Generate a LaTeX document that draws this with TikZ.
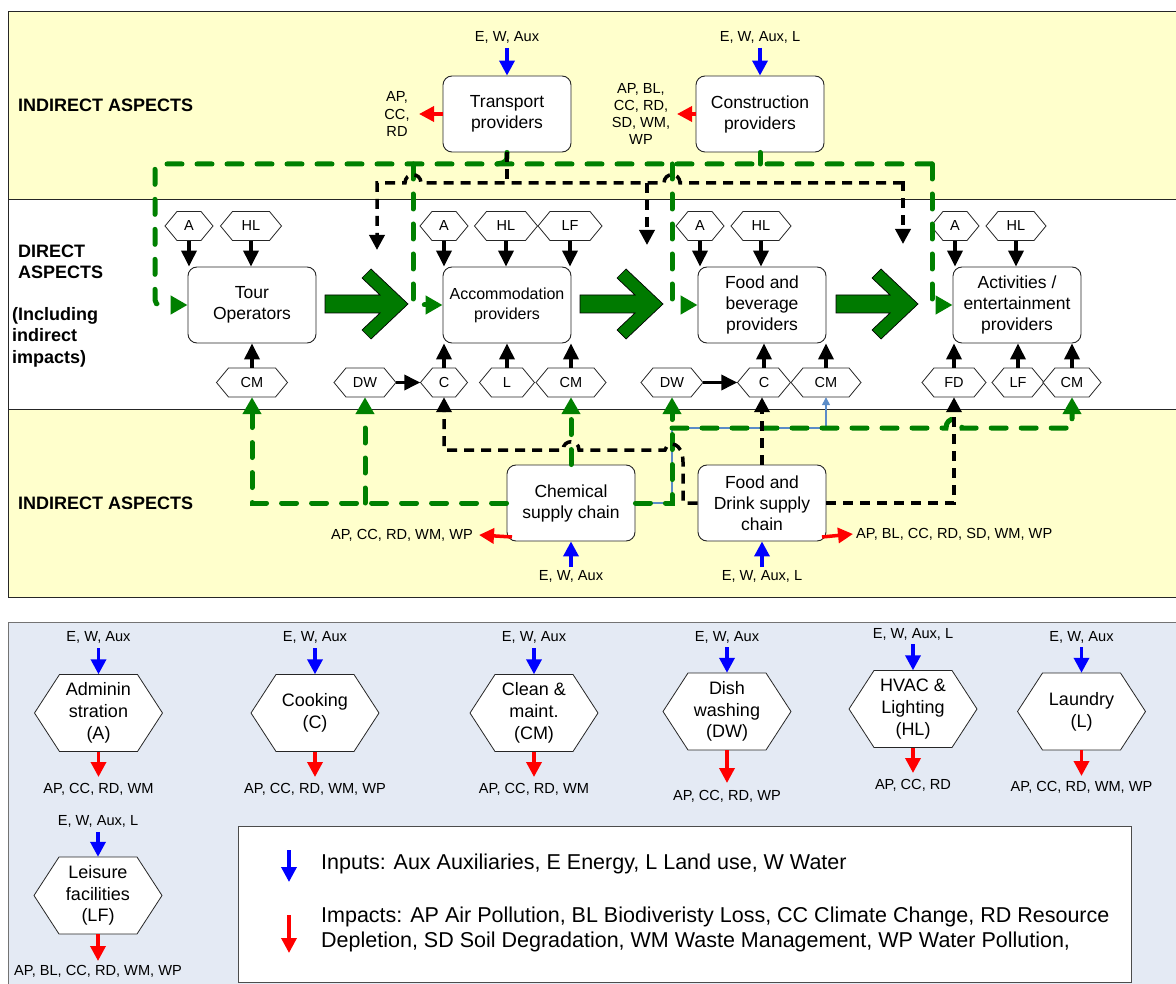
\documentclass[tikz,border=0pt]{standalone}
\usepackage{fontspec}
\setmainfont{Liberation Sans}
\usetikzlibrary{arrows.meta}

\definecolor{paleyellow}{HTML}{FFFFCC}
\definecolor{legendbg}{HTML}{E4EAF4}
\definecolor{flowgreen}{HTML}{008000}
\definecolor{arrowgreen}{HTML}{007A00}
\definecolor{inblue}{HTML}{0000FF}
\definecolor{outred}{HTML}{FF0000}
\definecolor{thinblue}{HTML}{5B8CC8}

\tikzset{
  procbox/.style={draw=black!85, line width=0.9pt, fill=white, rounded corners=9pt,
    minimum width=128pt, minimum height=76pt, align=center, inner sep=1pt,
    font=\fontsize{17.5}{21}\selectfont},
  hexframe/.style={draw=black!85, line width=0.8pt, fill=white},
  hexinner/.style={inner sep=0pt, align=center},
  smallhexfont/.style={font=\fontsize{14.5}{16}\selectfont},
  bighexfont/.style={font=\fontsize{18}{21.7}\selectfont},
  note/.style={inner sep=0pt, align=center, font=\fontsize{14.6}{17.3}\selectfont},
  sect/.style={inner sep=0pt, align=left, anchor=west, font=\fontsize{18}{21.5}\selectfont\bfseries},
  feed/.style={draw=black, line width=3.5pt, -{Triangle[length=16pt,width=15pt]}},
  kdash/.style={draw=black, line width=3.5pt, dash pattern=on 10pt off 7pt},
  ktip/.style={-{Triangle[length=15pt,width=15pt]}},
  gdash/.style={draw=flowgreen, line width=5pt, line cap=round, dash pattern=on 15pt off 15pt},
  gtip/.style={-{Triangle[length=17pt,width=18pt]}},
  inflow/.style={draw=inblue, line width=3.5pt, -{Triangle[length=15pt,width=15pt]}},
  outflow/.style={draw=outred, line width=3.5pt, -{Triangle[length=15pt,width=15pt]}},
  bigarrow/.style={fill=arrowgreen, draw=black, line width=0.7pt},
  thinlink/.style={draw=thinblue, line width=1.3pt, -{Triangle[length=8pt,width=8pt]}},
  legendtext/.style={inner sep=0pt, anchor=west, align=left, font=\fontsize{21.5}{25}\selectfont},
}

% hexagon: name, centre x, centre y, width, height, slant, text style, text
\newcommand{\hexcell}[8]{%
  \filldraw[hexframe] ({#2-(#4)/2},{#3}) -- ({#2-(#4)/2+(#6)},{#3-(#5)/2})
    -- ({#2+(#4)/2-(#6)},{#3-(#5)/2}) -- ({#2+(#4)/2},{#3})
    -- ({#2+(#4)/2-(#6)},{#3+(#5)/2}) -- ({#2-(#4)/2+(#6)},{#3+(#5)/2}) -- cycle;
  \node[hexinner, #7, minimum width=#4pt, minimum height=#5pt] (#1) at (#2,#3) {#8};
}
\newcommand{\smallhex}[5]{\hexcell{#1}{#2}{#3}{#4}{29}{12}{smallhexfont}{#5}}
\newcommand{\bighex}[4]{\hexcell{#1}{#2}{#3}{128}{77}{25}{bighexfont}{#4}}

% fat chevron arrow: start x, tip x, centre y
\newcommand{\fatarrow}[3]{%
  \filldraw[bigarrow] (#1,{#3-9}) -- ({#2-28},{#3-9}) -- ({#2-46},{#3-26}) -- ({#2-37},{#3-35})
    -- (#2,#3) -- ({#2-37},{#3+35}) -- ({#2-46},{#3+26}) -- ({#2-28},{#3+9}) -- (#1,{#3+9}) -- cycle;
}

\begin{document}
\begin{tikzpicture}[x=1pt,y=-1pt]
\useasboundingbox (0,0) rectangle (1176,984);

% ---------- bands ----------
\fill[paleyellow] (8,12) rectangle (1190,200);
\fill[white] (8,200) rectangle (1190,409);
\fill[paleyellow] (8,409) rectangle (1190,597);
\draw[black!85, line width=1pt] (8,12) rectangle (1190,597);
\draw[black!85, line width=1pt] (8,200) -- (1190,200);
\draw[black!85, line width=1pt] (8,409) -- (1190,409);

\node[sect] (lblindtop) at (18,105) {INDIRECT ASPECTS};
\node[sect] (lbldirect) at (18,262) {DIRECT\\ASPECTS};
\node[sect] (lblincl) at (12,337) {(Including\\indirect\\impacts)};
\node[sect] (lblindbot) at (18,503) {INDIRECT ASPECTS};

% ---------- indirect suppliers (top) ----------
\node[procbox] (tp) at (507,114) {Transport\\providers};
\node[procbox] (cp) at (760,114) {Construction\\providers};

\node[note] (tpinlbl) at (507,37) {E, W, Aux};
\coordinate (tpsrc) at (507,48);
\draw[inflow] (tpsrc) -- (tp.north);
\node[note] (tpoutlbl) at (397,114) {AP,\\CC,\\RD};
\coordinate (tpsink) at (419,114);
\draw[outflow] (tp.west) -- (tpsink);

\node[note] (cpinlbl) at (760,37) {E, W, Aux, L};
\coordinate (cpsrc) at (760,48);
\draw[inflow] (cpsrc) -- (cp.north);
\node[note] (cpoutlbl) at (641,114) {AP, BL,\\CC, RD,\\SD, WM,\\WP};
\coordinate (cpsink) at (677,114);
\draw[outflow] (cp.west) -- (cpsink);

% ---------- direct providers ----------
\node[procbox] (tour) at (252,305) {Tour\\Operators};
\node[procbox, font=\fontsize{16}{20}\selectfont] (acc) at (507,305) {Accommodation\\providers};
\node[procbox] (fb) at (762,305) {Food and\\beverage\\providers};
\node[procbox] (act) at (1017,305) {Activities /\\entertainment\\providers};

\fatarrow{325}{408}{304}
\fatarrow{580}{663}{304}
\fatarrow{836}{918}{304}

% activity hexagons, upper row
\smallhex{ta}{189}{226}{48}{A}
\smallhex{thl}{251}{226}{61}{HL}
\smallhex{aa}{444}{226}{48}{A}
\smallhex{ahl}{506}{226}{63}{HL}
\smallhex{alf}{570}{226}{64}{LF}
\smallhex{fa}{700}{226}{48}{A}
\smallhex{fhl}{761}{226}{60}{HL}
\smallhex{xa}{955}{226}{48}{A}
\smallhex{xhl}{1016}{226}{60}{HL}

% activity hexagons, lower row
\smallhex{tcm}{252}{382.5}{71}{CM}
\smallhex{adw}{365}{382.5}{62}{DW}
\smallhex{ac}{444}{382.5}{47}{C}
\smallhex{al}{507}{382.5}{55}{L}
\smallhex{acm}{571}{382.5}{70}{CM}
\smallhex{fdw}{672}{382.5}{62}{DW}
\smallhex{fc}{764}{382.5}{53}{C}
\smallhex{fcm}{826}{382.5}{70}{CM}
\smallhex{xfd}{954}{382.5}{64}{FD}
\smallhex{xlf}{1018}{382.5}{52}{LF}
\smallhex{xcm}{1072}{382.5}{58}{CM}

% feeds from activities into providers
\foreach \h/\b in {ta/tour, thl/tour, aa/acc, ahl/acc, alf/acc, fa/fb, fhl/fb, xa/act, xhl/act}
  \draw[feed] (\h.south) -- (\h.south |- \b.north);
\foreach \h/\b in {tcm/tour, ac/acc, al/acc, acm/acc, fc/fb, fcm/fb, xfd/act, xlf/act, xcm/act}
  \draw[feed] (\h.north) -- (\h.north |- \b.south);
\draw[feed] (adw.east) -- (ac.west);
\draw[feed] (fdw.east) -- (fc.west);

% ---------- upper supply links ----------
\draw[gdash, gtip, rounded corners=5pt] (932,164) -- (155,164) -- (155,305) -- (tour.west);
\draw[gdash, gtip, rounded corners=5pt] (413,164) -- (413,305) -- (acc.west);
\draw[gdash, gtip, rounded corners=5pt] (672,164) -- (672,305) -- (fb.west);
\draw[gdash, gtip, rounded corners=5pt] (932,164) -- (932,305) -- (act.west);
\draw[flowgreen, line width=5pt, line cap=round] (tp.south) .. controls (507,162) .. (497,164);
\draw[flowgreen, line width=5pt, line cap=round] (cp.south) -- (760,164);

\draw[kdash] (tp.south) -- (507,183);
\draw[kdash, ktip] (903,183) -- (680,183) .. controls (680,172) and (664,172) .. (664,183)
  -- (421,183) .. controls (421,172) and (405,172) .. (405,183) -- (377,183) -- (377,250);
\draw[kdash, ktip] (647,183) -- (647,245);
\draw[kdash, ktip] (903,181.25) -- (903,244);

% ---------- indirect suppliers (bottom) ----------
\node[procbox] (chem) at (571,503) {Chemical\\supply chain};
\node[procbox] (fds) at (762,503) {Food and\\Drink supply\\chain};

\draw[thinlink] (chem.east) -- (672,503) -- (672,428) -- (826,428) -- (fcm.south);

\draw[gdash, gtip] (chem.west) -- (252,503) -- (tcm.south);
\draw[gdash, gtip] (365,503) -- (adw.south);
\draw[gdash, gtip] (chem.north) -- (acm.south);
\draw[gdash, gtip] (chem.east) -- (672,503) -- (fdw.south);
\draw[gdash, gtip] (672,428) -- (946,428) .. controls (946,416) and (962,416) .. (962,428)
  -- (1072,428) -- (xcm.south);

\draw[kdash, ktip] (fds.west) -- (683,503) -- (683,462) .. controls (683,442) and (668,440) .. (665,450)
  -- (579,450) .. controls (579,439) and (563,439) .. (563,450) -- (444,450) -- (ac.south);
\draw[kdash, ktip] (fds.north) -- (fds.north |- fc.south);
\draw[kdash, ktip] (fds.east) -- (954,503) -- (xfd.south);

\node[note] (chemoutlbl) at (473,535) [anchor=east] {AP, CC, RD, WM, WP};
\coordinate (chemsink) at (479,535);
\coordinate (chemcorner) at (512,537);
\draw[outflow] (chemcorner) -- (chemsink);
\node[note] (cheminlbl) at (571,576) {E, W, Aux};
\coordinate (chemsrc) at (571,567);
\draw[inflow] (chemsrc) -- (chem.south);

\node[note] (fdsoutlbl) at (856,534) [anchor=west] {AP, BL, CC, RD, SD, WM, WP};
\coordinate (fdssink) at (853,534);
\coordinate (fdscorner) at (822,537);
\draw[outflow] (fdscorner) -- (fdssink);
\node[note] (fdsinlbl) at (762,576) {E, W, Aux, L};
\coordinate (fdssrc) at (762,567);
\draw[inflow] (fdssrc) -- (fds.south);

% ---------- legend panel ----------
\filldraw[fill=legendbg, draw=black!55, line width=1pt] (8,622) rectangle (1190,995);

\bighex{hxa}{98.5}{713}{Adminin\\stration\\(A)}
\bighex{hxc}{315}{713}{Cooking\\(C)}
\bighex{hxcm}{534}{713}{Clean \&\\maint.\\(CM)}
\bighex{hxdw}{727}{711.5}{Dish\\washing\\(DW)}
\bighex{hxhl}{913}{709}{HVAC \&\\Lighting\\(HL)}
\bighex{hxl}{1081.5}{711.5}{Laundry\\(L)}
\bighex{hxlf}{98}{895.5}{Leisure\\facilities\\(LF)}

% inputs above, impacts below each legend hexagon
\foreach \h/\x/\ty/\ay/\tin/\by/\oy/\tout in {
  hxa/98.5/637.5/648/{E, W, Aux}/777/789/{AP, CC, RD, WM},
  hxc/315/637.5/648/{E, W, Aux}/777/789/{AP, CC, RD, WM, WP},
  hxcm/534/637.5/648/{E, W, Aux}/777/789/{AP, CC, RD, WM},
  hxdw/727/637/647/{E, W, Aux}/783/796.5/{AP, CC, RD, WP},
  hxhl/913/634/644/{E, W, Aux, L}/773/785.5/{AP, CC, RD},
  hxl/1081.5/637/647/{E, W, Aux}/776/787.5/{AP, CC, RD, WM, WP},
  hxlf/98/821/832/{E, W, Aux, L}/961/971/{AP, BL, CC, RD, WM, WP}} {
  \node[note] (\h in) at (\x,\ty) {\tin};
  \coordinate (\h src) at (\x,\ay);
  \draw[inflow] (\h src) -- (\h.north);
  \coordinate (\h sink) at (\x,\by);
  \draw[outflow] (\h.south) -- (\h sink);
  \node[note] (\h out) at (\x,\oy) {\tout};
}

\node[draw=black!70, line width=1pt, fill=white, minimum width=892.5pt, minimum height=156pt,
  inner sep=0pt] (key) at (684.75,904) {};
\coordinate (keyinsrc) at (289,850);
\coordinate (keyinsink) at (289,882);
\draw[inflow] (keyinsrc) -- (keyinsink);
\coordinate (keyoutsrc) at (289,915);
\coordinate (keyoutsink) at (289,953);
\draw[outflow] (keyoutsrc) -- (keyoutsink);
\node[legendtext] (keyinputs) at (321,864) {Inputs: Aux Auxiliaries, E Energy, L Land use, W Water};
\node[legendtext] (keyimpacts) at (321,929.5) {Impacts: AP Air Pollution, BL Biodiveristy Loss, CC Climate Change, RD Resource\\Depletion, SD Soil Degradation, WM Waste Management, WP Water Pollution,};

\end{tikzpicture}
\end{document}
